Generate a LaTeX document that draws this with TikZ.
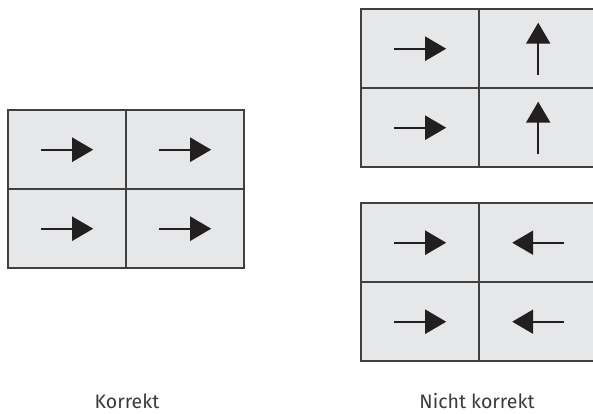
\documentclass[tikz,border=0pt]{standalone}
\usepackage{fontspec}
\setmainfont{Fira Sans}
\usetikzlibrary{arrows.meta}
\definecolor{cellfill}{HTML}{E6E7E8}
\definecolor{cellline}{HTML}{404040}
\definecolor{arrowcol}{HTML}{231F20}
\definecolor{labelcol}{HTML}{3A3A3A}
\begin{document}
\begin{tikzpicture}[x=1pt,y=-1pt,
  cellbox/.style={draw=cellline, fill=cellfill, line width=2.4pt, minimum width=118pt, minimum height=79pt, inner sep=0pt, anchor=north west},
  flowarrow/.style={draw=arrowcol, line width=2.2pt, -{Triangle[length=21pt,width=24pt]}},
  caption/.style={text=labelcol, font=\fontsize{19.5}{22}\selectfont, anchor=base}]
\useasboundingbox (0,0) rectangle (593,414);
\begin{scope}
\clip (0,0) rectangle (593,414);
% left grid (Korrekt)
\node[cellbox] (a11) at (7,109) {};
\node[cellbox] (a12) at (125,109) {};
\node[cellbox] (a21) at (7,188) {};
\node[cellbox] (a22) at (125,188) {};
% top-right grid
\node[cellbox] (b11) at (360,8) {};
\node[cellbox] (b12) at (478,8) {};
\node[cellbox] (b21) at (360,87) {};
\node[cellbox] (b22) at (478,87) {};
% bottom-right grid
\node[cellbox] (c11) at (360,202) {};
\node[cellbox] (c12) at (478,202) {};
\node[cellbox] (c21) at (360,281) {};
\node[cellbox] (c22) at (478,281) {};
% arrows
\foreach \n in {a11,a12,a21,a22,b11,b21,c11,c21}{
  \draw[flowarrow] ([xshift=-26pt]\n.center) -- ([xshift=26pt]\n.center);
}
\foreach \n in {b12,b22}{
  \draw[flowarrow] ([yshift=-26pt]\n.center) -- ([yshift=26pt]\n.center);
}
\foreach \n in {c12,c22}{
  \draw[flowarrow] ([xshift=26pt]\n.center) -- ([xshift=-26pt]\n.center);
}
\end{scope}
\node[caption] (lk) at (127,408) {Korrekt};
\node[caption] (lnk) at (477,408) {Nicht korrekt};
\end{tikzpicture}
\end{document}
